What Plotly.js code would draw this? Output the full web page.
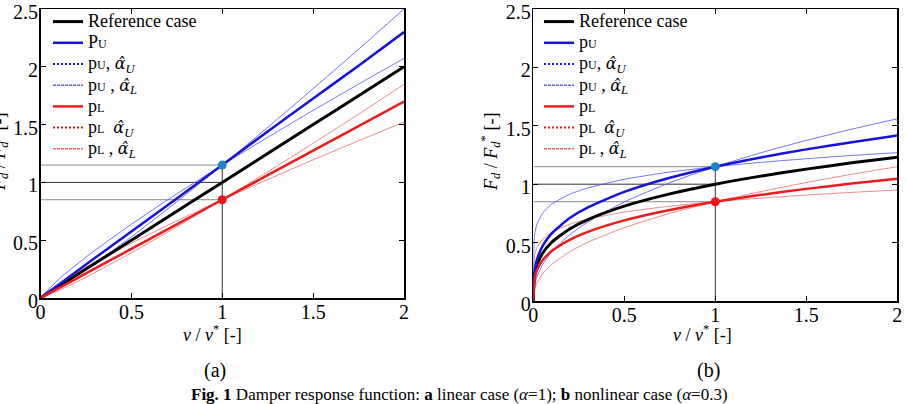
<!DOCTYPE html>
<html>
<head>
<meta charset="utf-8">
<script src="https://cdn.plot.ly/plotly-3.0.1.min.js"></script>
<style>
  html, body { margin: 0; padding: 0; background: #fff; }
  #fig { width: 907px; height: 404px; }
</style>
</head>
<body>
<div id="fig"></div>
<script>
// (a) linear damper, alpha = 1
const vLin    = [0, 0.1, 0.25, 0.5, 0.75, 1, 1.25, 1.5, 1.75, 2];
const linRef  = [0, 0.1, 0.25, 0.5, 0.75, 1, 1.25, 1.5, 1.75, 2];
const linPU   = [0, 0.115, 0.29, 0.575, 0.86, 1.15, 1.44, 1.725, 2.01, 2.3];
const linPUaU = [0, 0.087, 0.243, 0.529, 0.833, 1.15, 1.476, 1.811, 2.152, 2.5];
const linPUaL = [0, 0.162, 0.354, 0.638, 0.901, 1.15, 1.39, 1.623, 1.85, 2.073];
const linPL   = [0, 0.085, 0.2125, 0.425, 0.6375, 0.85, 1.0625, 1.275, 1.4875, 1.7];
const linPLaU = [0, 0.064, 0.18, 0.391, 0.616, 0.85, 1.091, 1.339, 1.59, 1.848];
const linPLaL = [0, 0.123, 0.265, 0.475, 0.667, 0.85, 1.025, 1.195, 1.36, 1.522];

// (b) nonlinear damper, alpha = 0.3
const vNl    = [0, 0.005, 0.01, 0.02, 0.05, 0.1, 0.2, 0.3, 0.5, 0.75, 1, 1.25, 1.5, 1.75, 2];
const nlRef  = [0, 0.204, 0.251, 0.309, 0.407, 0.501, 0.617, 0.697, 0.812, 0.917, 1, 1.069, 1.129, 1.183, 1.231];
const nlPU   = [0, 0.235, 0.289, 0.355, 0.468, 0.576, 0.71, 0.802, 0.934, 1.055, 1.15, 1.229, 1.298, 1.36, 1.416];
const nlPUaU = [0, 0.112, 0.152, 0.206, 0.308, 0.418, 0.567, 0.677, 0.848, 1.013, 1.15, 1.269, 1.375, 1.471, 1.56];
const nlPUaL = [0, 0.539, 0.595, 0.657, 0.749, 0.828, 0.914, 0.968, 1.042, 1.104, 1.15, 1.187, 1.218, 1.246, 1.27];
const nlPL   = [0, 0.173, 0.213, 0.263, 0.346, 0.426, 0.524, 0.592, 0.69, 0.779, 0.85, 0.909, 0.96, 1.006, 1.046];
const nlPLaU = [0, 0.084, 0.114, 0.154, 0.23, 0.311, 0.422, 0.503, 0.628, 0.75, 0.85, 0.937, 1.014, 1.085, 1.15];
const nlPLaL = [0, 0.364, 0.407, 0.455, 0.526, 0.588, 0.657, 0.701, 0.761, 0.812, 0.85, 0.881, 0.907, 0.93, 0.95];

// design velocity and the force levels marked on both panels
const vStar = 1;
const levelU = 1.15, levelRef = 1, levelL = 0.85;

// axis ticks
const tickVals = [0, 0.5, 1, 1.5, 2, 2.5];
const tickText = ['0', '0.5', '1', '1.5', '2', '2.5'];

const SERIF = 'Liberation Serif, Times New Roman, serif';
const BLACK = '#000000';
const BLUE = '#1414dc';
const BLUE_THIN = 'rgba(70,70,255,0.75)';
const RED = '#ec1c1c';
const RED_THIN = 'rgba(240,110,110,0.8)';
const DOT_BLUE = '#1b86cc';
const DOT_RED = '#ee1515';

const big = s => '<span style="font-size:18px">' + s + '</span>';
const sm = s => '<span style="font-size:12px">' + s + '</span>';
const aHat = sub => '<span style="font-family:DejaVu Serif;font-size:16px"><i>\u03B1\u0302</i></span>' +
  '<sub><i>' + sub + '</i></sub>';

function legendNames(capitalP) {
  return [
    big('Reference case'),
    big((capitalP ? 'P' : 'p') + sm('U')),
    big('p' + sm('U') + ', ' + aHat('U')),
    big('p' + sm('U') + ' , ' + aHat('L')),
    big('p' + sm('L')),
    big('p' + sm('L') + '  ' + aHat('U')),
    big('p' + sm('L') + ' , ' + aHat('L'))
  ];
}

function panel(xa, ya, leg, v, ref, pu, puU, puL, pl, plU, plL, capitalP) {
  const names = legendNames(capitalP);
  const base = { xaxis: xa, yaxis: ya, legend: leg, mode: 'lines', hoverinfo: 'skip' };
  const key = (name, color, width, dash) => Object.assign({}, base, {
    x: [null], y: [null], name: name, showlegend: true,
    line: { color: color, width: width, dash: dash }
  });
  const curve = (y, color, width, extra) => Object.assign({}, base, {
    x: v, y: y, line: { color: color, width: width, shape: 'spline', smoothing: 0.6 }
  }, extra || {});
  return [
    curve(puU, BLUE_THIN, 1, { showlegend: false }),
    curve(puL, BLUE_THIN, 1, { showlegend: false }),
    curve(plU, RED_THIN, 1, { showlegend: false }),
    curve(plL, RED_THIN, 1, { showlegend: false }),
    curve(ref, BLACK, 3, { name: names[0] }),
    curve(pu, BLUE, 2.5, { name: names[1] }),
    key(names[2], BLUE, 2, '2px,2px'),
    key(names[3], BLUE, 1, '3px,1px'),
    curve(pl, RED, 2.5, { name: names[4] }),
    key(names[5], RED, 2, '2px,2px'),
    key(names[6], RED, 1, '3px,1px'),
    Object.assign({}, base, {
      x: [vStar], y: [levelU], mode: 'markers', showlegend: false,
      marker: { color: DOT_BLUE, size: 9 }
    }),
    Object.assign({}, base, {
      x: [vStar], y: [levelL], mode: 'markers', showlegend: false,
      marker: { color: DOT_RED, size: 9 }
    })
  ];
}

const data = [].concat(
  panel('x', 'y', 'legend', vLin, linRef, linPU, linPUaU, linPUaL, linPL, linPLaU, linPLaL, true),
  panel('x2', 'y2', 'legend2', vNl, nlRef, nlPU, nlPUaU, nlPUaL, nlPL, nlPLaU, nlPLaL, false)
);

function guides(xr, yr) {
  const seg = (x0, y0, x1, y1, color) => ({
    type: 'line', xref: xr, yref: yr, x0: x0, y0: y0, x1: x1, y1: y1,
    layer: 'below', line: { color: color, width: 1 }
  });
  return [
    seg(0, levelU, vStar, levelU, '#8a8a8a'),
    seg(0, levelRef, vStar, levelRef, '#333333'),
    seg(0, levelL, vStar, levelL, '#8a8a8a'),
    seg(vStar, 0, vStar, levelU, '#333333')
  ];
}

const axisCommon = {
  showline: true, linecolor: BLACK, linewidth: 1.5, mirror: 'ticks',
  ticks: 'inside', ticklen: 5, tickwidth: 1, tickcolor: BLACK,
  showgrid: false, zeroline: false, fixedrange: true,
  ticklabeloverflow: 'allow',
  tickfont: { family: SERIF, size: 20, color: BLACK },
  tickmode: 'array', tickvals: tickVals, ticktext: tickText
};
const xAxis = (domain, anchor) => Object.assign({}, axisCommon, {
  domain: domain, anchor: anchor, range: [0, 2], ticklabelstandoff: -5
});
const yAxis = (domain, anchor) => Object.assign({}, axisCommon, {
  domain: domain, anchor: anchor, range: [0, 2.5], ticklabelstandoff: -3, ticklabelshift: 3
});

const legendCommon = {
  xanchor: 'left', yanchor: 'top', bgcolor: 'rgba(0,0,0,0)', borderwidth: 0,
  font: { family: SERIF, size: 14, color: BLACK }, tracegroupgap: 0, itemwidth: 30
};

const W = 907, H = 404;
const px = x => x / W;
const py = y => 1 - y / H;
const note = (text, x, y, size, extra) => Object.assign({
  text: text, xref: 'paper', yref: 'paper', x: px(x), y: py(y),
  xanchor: 'center', yanchor: 'middle', showarrow: false,
  font: { family: SERIF, size: size, color: BLACK }
}, extra || {});

const xTitle = '<i>v</i> / <i>v</i><sup>*</sup> [-]';
const yTitle = '<i>F</i><sub><i>d</i></sub> / <i>F</i><sub><i>d</i></sub><sup>*</sup> [-]';

const layout = {
  width: W, height: H,
  margin: { l: 0, r: 0, t: 0, b: 0 },
  paper_bgcolor: '#ffffff', plot_bgcolor: '#ffffff',
  font: { family: SERIF, color: BLACK },
  showlegend: true,
  xaxis: xAxis([px(40.5), px(404)], 'y'),
  yaxis: yAxis([py(298), py(9)], 'x'),
  xaxis2: xAxis([px(533.3), px(897.3)], 'y2'),
  yaxis2: yAxis([py(301), py(9)], 'x2'),
  legend: Object.assign({}, legendCommon, { x: px(48), y: py(6) }),
  legend2: Object.assign({}, legendCommon, { x: px(539), y: py(6) }),
  shapes: guides('x', 'y').concat(guides('x2', 'y2')),
  annotations: [
    note(xTitle, 212, 333, 18),
    note(xTitle, 702, 333, 18),
    note(yTitle, -2, 152, 18, { textangle: -90 }),
    note(yTitle, 490, 152, 18, { textangle: -90 }),
    note('(a)', 215, 370, 20),
    note('(b)', 708, 370, 20),
    note('<b>Fig. 1</b> Damper response function: <b>a</b> linear case (<i>\u03B1</i>=1); <b>b</b> nonlinear case (<i>\u03B1</i>=0.3)', 460, 394, 17)
  ]
};

Plotly.newPlot('fig', data, layout, { displayModeBar: false, staticPlot: true });
</script>
</body>
</html>
